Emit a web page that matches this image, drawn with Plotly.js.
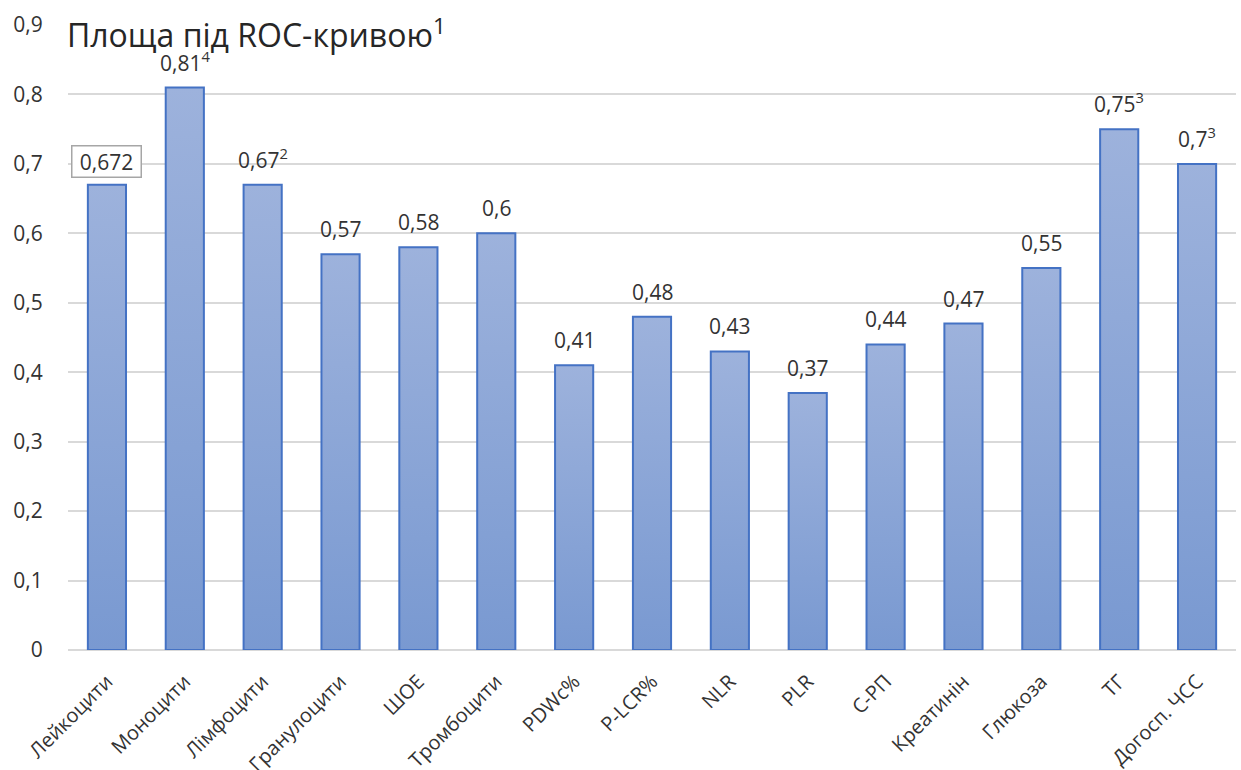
<!DOCTYPE html>
<html>
<head>
<meta charset="utf-8">
<script src="https://cdn.plot.ly/plotly-3.0.1.min.js"></script>
<style>html,body{margin:0;padding:0;background:#fff;}#chart{width:1241px;height:770px;}</style>
</head>
<body>
<div id="chart"></div>
<script>
const categories = ["Лейкоцити","Моноцити","Лімфоцити","Гранулоцити","ШОЕ","Тромбоцити","PDWc%","P-LCR%","NLR","PLR","С-РП","Креатинін","Глюкоза","ТГ","Догосп. ЧСС"];
const values = [0.67,0.81,0.67,0.57,0.58,0.60,0.41,0.48,0.43,0.37,0.44,0.47,0.55,0.75,0.70];
const labels = ["0,672","0,81<sup>4</sup>","0,67<sup>2</sup>","0,57","0,58","0,6","0,41","0,48","0,43","0,37","0,44","0,47","0,55","0,75<sup>3</sup>","0,7<sup>3</sup>"];
const boxed = [true,false,false,false,false,false,false,false,false,false,false,false,false,false,false];
const yTicks = [0,0.1,0.2,0.3,0.4,0.5,0.6,0.7,0.8,0.9];
const titleText = "Площа під ROC-кривою<sup>1</sup>";

const FONT = "Open Sans, Noto Sans, sans-serif";
const TXT = "#333333";

const trace = {
  type: "bar",
  x: categories,
  y: values,
  marker: {color: "#8ba5d7", line: {color: "#4472c4", width: 2}},
  hoverinfo: "none"
};

const annotations = [{
  xref: "paper", yref: "paper", x: 0, y: 1, xanchor: "left", yanchor: "middle",
  yshift: -8, xshift: -2,
  text: titleText, showarrow: false, bgcolor: "#ffffff", borderpad: 0,
  font: {family: FONT, size: 32, color: "#262626"}
}];
categories.forEach((c, i) => {
  const a = {
    x: c, y: values[i], xref: "x", yref: "y",
    text: labels[i], showarrow: false,
    yanchor: "bottom", yshift: 9,
    font: {family: FONT, size: 21, color: TXT}
  };
  if (boxed[i]) {
    a.bordercolor = "#a6a6a6"; a.borderwidth = 1.5; a.borderpad = 1;
    a.bgcolor = "#ffffff"; a.width = 66; a.height = 28; a.yshift = 7;
  }
  annotations.push(a);
});

const layout = {
  width: 1241, height: 770,
  margin: {l: 68, r: 5, t: 25, b: 120},
  separators: ", ",
  paper_bgcolor: "#ffffff", plot_bgcolor: "#ffffff",
  font: {family: FONT, color: TXT, size: 20},
  showlegend: false,
  bargap: 0.51,
  xaxis: {
    type: "category", tickangle: -45, showgrid: false,
    showline: false, zeroline: false,
    ticks: "outside", ticklen: 11, tickcolor: "rgba(0,0,0,0)",
    tickfont: {family: FONT, size: 20, color: TXT}
  },
  yaxis: {
    range: [0, 0.9], tickvals: yTicks, tickformat: ".1~f",
    showgrid: true, gridcolor: "#d9d9d9", gridwidth: 2,
    zeroline: true, zerolinecolor: "#d9d9d9", zerolinewidth: 2,
    showline: false,
    ticks: "outside", ticklen: 20, tickcolor: "rgba(0,0,0,0)",
    tickfont: {family: FONT, size: 21, color: TXT}
  },
  annotations: annotations
};

Plotly.newPlot("chart", [trace], layout, {displayModeBar: false, staticPlot: true}).then(gd => {
  const svg = gd.querySelector("svg.main-svg");
  const ns = "http://www.w3.org/2000/svg";
  let defs = svg.querySelector("defs");
  if (!defs) { defs = document.createElementNS(ns, "defs"); svg.insertBefore(defs, svg.firstChild); }
  const g = document.createElementNS(ns, "linearGradient");
  g.setAttribute("id", "barGrad");
  g.setAttribute("x1", "0"); g.setAttribute("y1", "0");
  g.setAttribute("x2", "0"); g.setAttribute("y2", "1");
  [["0", "#9db2dc"], ["1", "#7999d1"]].forEach(([o, c]) => {
    const s = document.createElementNS(ns, "stop");
    s.setAttribute("offset", o); s.setAttribute("stop-color", c);
    g.appendChild(s);
  });
  defs.appendChild(g);
  gd.querySelectorAll(".barlayer .point path").forEach(p => { p.style.fill = "url(#barGrad)"; });
});
</script>
</body>
</html>
